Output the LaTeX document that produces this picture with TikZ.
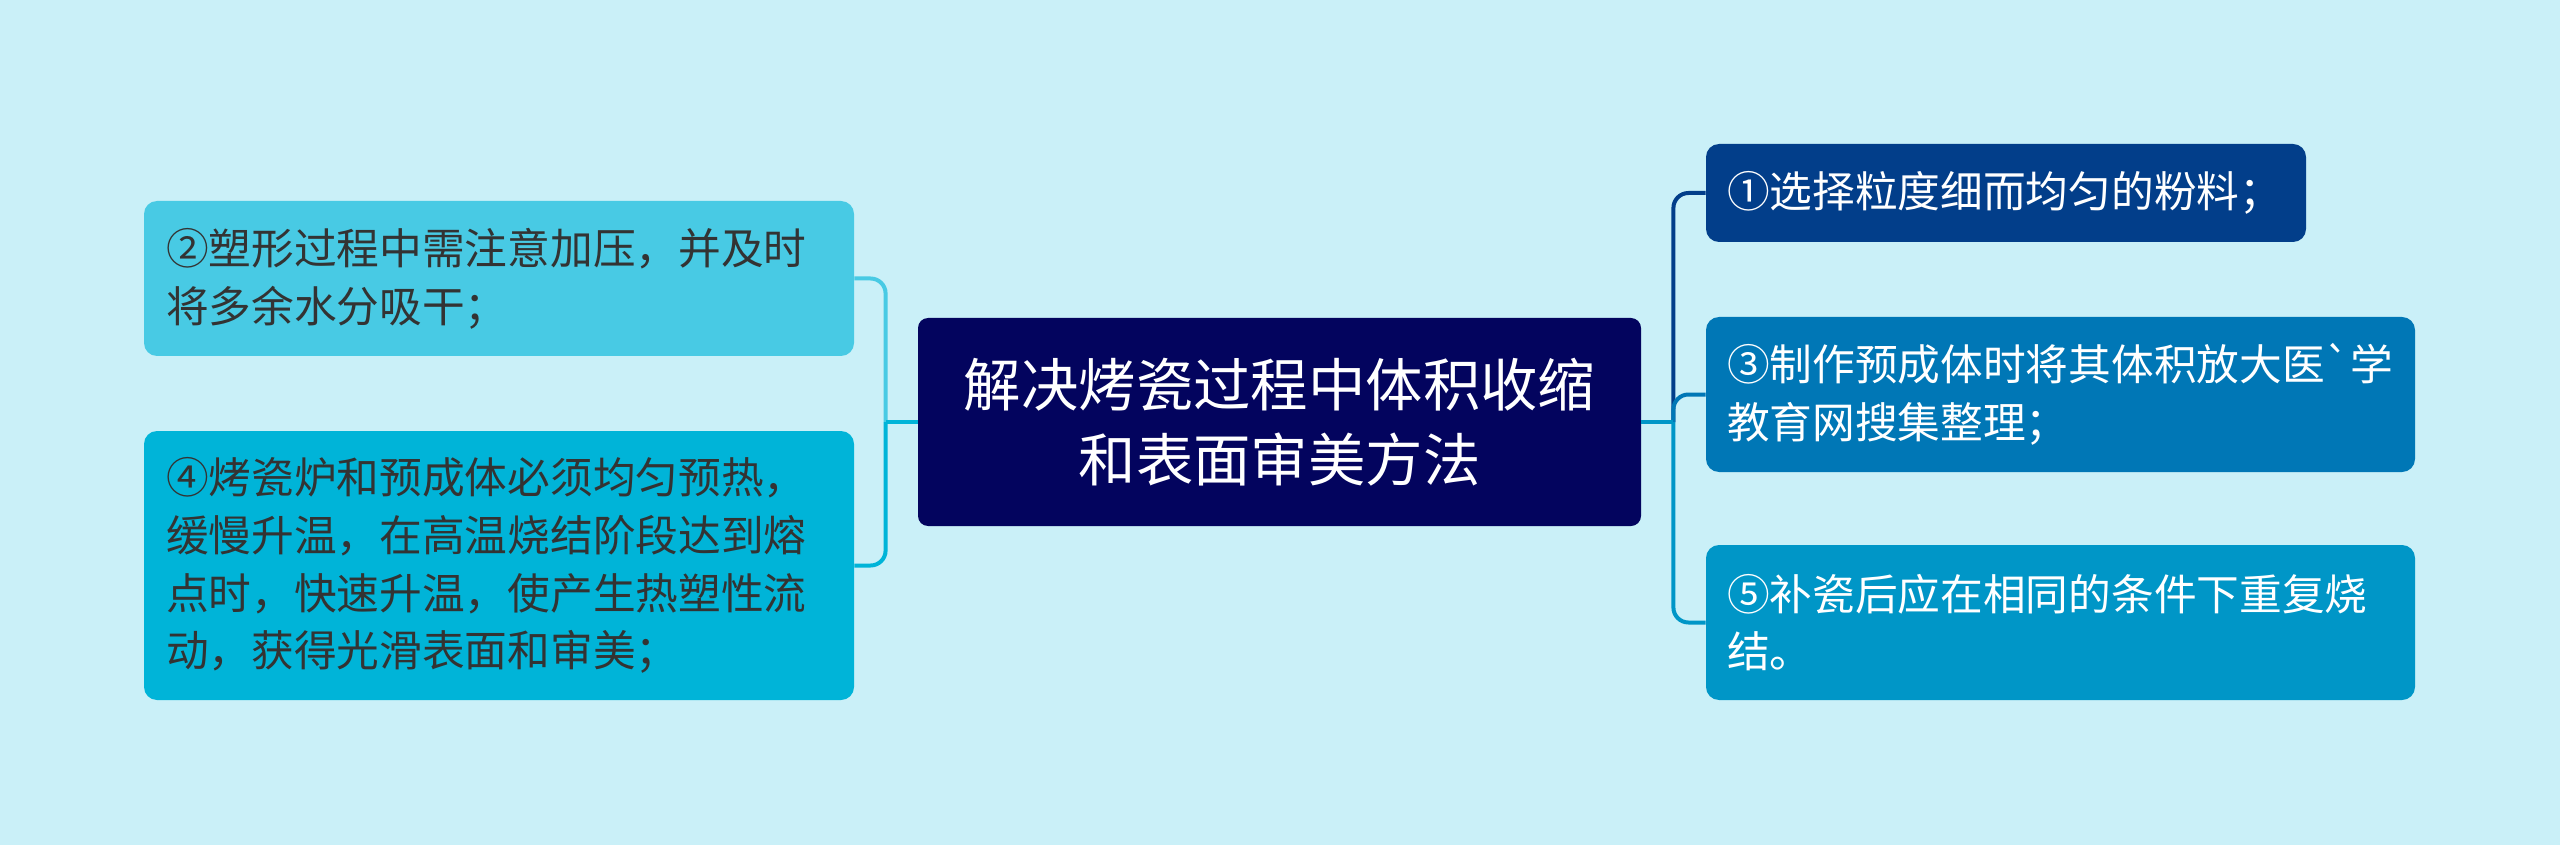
\documentclass[tikz,border=0pt]{standalone}
\usepackage{fontspec}
\newfontfamily\cjk{Noto Sans CJK SC}
\usepackage{tikz}
\definecolor{bg}{HTML}{CAF0F8}
\definecolor{navy}{HTML}{03045E}
\definecolor{c1}{HTML}{023E8A}
\definecolor{c3}{HTML}{0077B6}
\definecolor{c5}{HTML}{0096C7}
\definecolor{c4}{HTML}{00B4D8}
\definecolor{c2}{HTML}{48CAE4}
\definecolor{ink}{HTML}{333333}

\begin{document}
\begin{tikzpicture}[
   x=0.5pt,y=-0.5pt,
   root/.style={fill=navy,rounded corners=5pt,inner sep=0pt,minimum width=361.5pt,
      minimum height=104pt,text=white,align=center,
      font=\cjk\fontsize{28.7}{37.5}\selectfont},
   topic/.style={rounded corners=6.5pt,inner ysep=0pt,align=left,
      font=\cjk\fontsize{21.35}{28.9}\selectfont},
   lefttopic/.style={topic,fill=#1,text=ink,inner xsep=11pt,text width=333pt},
   righttopic/.style={topic,fill=#1,text=white,inner xsep=10.5pt},
   link/.style={draw=#1,line width=2pt,rounded corners=7.5pt}]
\fill[bg] (0,0) rectangle (2560,845);
\useasboundingbox (0,0) rectangle (2560,845);

\node[root] (C) at (1279.5,422) {解决烤瓷过程中体积收缩\\和表面审美方法};

\node[lefttopic=c2,minimum height=77.5pt] (L2) at (499,278.5)
   {②塑形过程中需注意加压，并及时\\将多余水分吸干；};
\node[lefttopic=c4,minimum height=134.5pt] (L4) at (499,565.5)
   {④烤瓷炉和预成体必须均匀预热，\\缓慢升温，在高温烧结阶段达到熔\\点时，快速升温，使产生热塑性流\\动，获得光滑表面和审美；};

\node[righttopic=c1,text width=279pt,minimum height=49pt] (R1) at (2006,193)
   {①选择粒度细而均匀的粉料；};
\node[righttopic=c3,text width=333.5pt,minimum height=77.5pt] (R3) at (2060.5,394.5)
   {③制作预成体时将其体积放大医`学\\教育网搜集整理；};
\node[righttopic=c5,text width=333.5pt,minimum height=77.5pt] (R5) at (2060.5,622.5)
   {⑤补瓷后应在相同的条件下重复烧\\结。};

% joints
\coordinate (JR) at ([xshift=16pt]C.east);
\coordinate (JL) at ([xshift=-16pt]C.west);

\draw[link=c1] (JR) |- (R1.west);
\draw[link=c3] (JR) |- (R3.west);
\draw[link=c5] (JR) |- (R5.west);
\draw[link=c5] (C.east) -- (JR);

\draw[link=c2] (JL) |- (L2.east);
\draw[link=c4] (JL) |- (L4.east);
\draw[link=c4] (C.west) -- (JL);
\end{tikzpicture}
\end{document}
